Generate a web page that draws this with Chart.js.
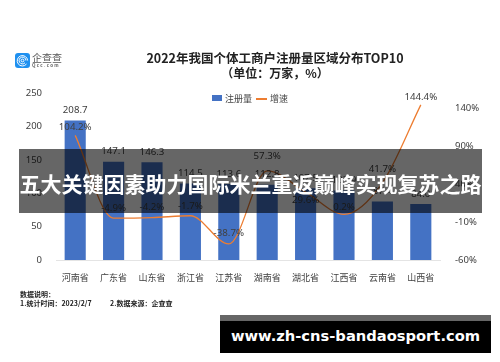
<!DOCTYPE html>
<html lang="zh">
<head>
<meta charset="utf-8">
<script src="https://cdn.jsdelivr.net/npm/chart.js@4/dist/chart.umd.min.js"></script>
<style>
html,body{margin:0;padding:0;background:#fff;width:500px;height:362px;overflow:hidden;font-family:"Noto Sans CJK SC","Noto Sans",sans-serif}
#wrap{position:relative;width:500px;height:362px;overflow:hidden}
canvas{position:absolute;left:0;top:0}
.t{position:absolute;white-space:nowrap;line-height:1}
</style>
</head>
<body>
<div id="wrap">
<canvas id="c" width="500" height="362"></canvas>
<svg class="t" style="left:15px;top:53px" width="15" height="15" viewBox="0 0 15 15"><rect width="15" height="15" rx="3" fill="#1e90f0"/><g fill="none" stroke="#fff" stroke-width="1"><path d="M11.5 11A5.2 5.2 0 1 1 12.6 7.5"/><path d="M10 9.8A3.4 3.4 0 1 1 10.9 7.5"/><circle cx="7.5" cy="7.5" r="1.4"/></g></svg>
<div class="t" style="left:32px;top:53px;font-size:10px;letter-spacing:0;color:#555;">企查查</div>
<div class="t" style="left:32px;top:63px;font-size:4.5px;letter-spacing:1.3px;color:#666;font-weight:bold">Qcc.com</div>
<div class="t" style="left:125px;width:300px;text-align:center;top:51.5px;font-size:12.5px;font-weight:bold;color:#222">2022年我国个体工商户注册量区域分布TOP10</div>
<div class="t" style="left:125px;width:300px;text-align:center;top:67px;font-size:12px;font-weight:bold;color:#222">&#xFF08;单位&#xFF1A;万家&#xFF0C;%&#xFF09;</div>
<div class="t" style="left:212px;top:95px;width:10px;height:6px;background:#4472C4"></div>
<div class="t" style="left:225px;top:94px;font-size:9px;color:#444">注册量</div>
<div class="t" style="left:256px;top:98px;width:11px;height:1.5px;background:#ED7D31"></div>
<div class="t" style="left:270px;top:94px;font-size:9px;color:#444">增速</div>
<div class="t" style="left:20px;top:291px;font-size:7px;font-weight:bold;color:#222">数据说明&#xFF1A;</div>
<div class="t" style="left:20px;top:300px;font-size:7px;font-weight:bold;color:#222">1.统计时间&#xFF1A;2023/2/7</div>
<div class="t" style="left:110px;top:300px;font-size:7px;font-weight:bold;color:#222">2.数据来源&#xFF1A;企查查</div>
<div class="t" style="left:19px;top:149px;width:463px;height:64px;background:rgba(0,0,0,.6)"></div>
<div class="t" style="left:19px;top:149px;width:463px;height:64px;line-height:69px;text-align:center;font-size:21px;font-weight:bold;color:#fff">五大关键因素助力国际米兰重返巅峰实现复苏之路</div>
<div class="t" style="left:220px;top:315px;width:271px;height:6px;background:#666"></div>
<div class="t" style="left:220px;top:321px;width:271px;height:32px;background:#000"></div>
<div class="t" style="left:220px;top:321px;width:271px;height:32px;line-height:30px;text-align:center;font-family:'DejaVu Sans';font-size:14.7px;font-weight:bold;color:#fff">www.zh-cns-bandaosport.com</div>
</div>
<script>
const categories = ["河南省","广东省","山东省","浙江省","江苏省","湖南省","湖北省","江西省","云南省","山西省"];
const registrations = [208.7,147.1,146.3,114.5,113.6,112.8,107.5,103.9,87.4,84.0];
const growth = [104.2,-4.9,-4.2,-1.7,-38.7,57.3,29.6,0.2,41.7,144.4];
const leftTicks = [0,50,100,150,200,250];
const rightTicks = [-60,-10,40,90,140];
const growthLabelOffsets = [-8,-10,-10,-10,-11,-15,8,-7,-14,-8];
const LABEL_FONT = '9.7px "Noto Sans","Noto Sans CJK SC",sans-serif';
const valueLabels = {
  id:'valueLabels',
  afterDatasetsDraw(chart){
    const {ctx,scales:{x,y,y1}} = chart;
    ctx.save();
    ctx.font = LABEL_FONT; ctx.fillStyle = '#404040';
    ctx.textAlign = 'center'; ctx.textBaseline = 'middle';
    registrations.forEach((v,i)=>ctx.fillText(v.toFixed(1),x.getPixelForValue(i),y.getPixelForValue(v)-10));
    growth.forEach((v,i)=>ctx.fillText(v.toFixed(1)+'%',x.getPixelForValue(i),y1.getPixelForValue(v)+growthLabelOffsets[i]));
    ctx.restore();
  }
};
new Chart(document.getElementById('c'),{
  data:{labels:categories,datasets:[
    {type:'line',label:'增速',data:growth,yAxisID:'y1',borderColor:'#ED7D31',borderWidth:1.3,pointRadius:0,cubicInterpolationMode:'monotone',order:1},
    {type:'bar',label:'注册量',data:registrations,yAxisID:'y',backgroundColor:'#4472C4',barPercentage:0.55,categoryPercentage:1,order:2}
  ]},
  options:{
    responsive:false,animation:false,devicePixelRatio:1,
    layout:{padding:{top:93,left:0,right:0,bottom:0}},
    plugins:{legend:{display:false},title:{display:false},tooltip:{enabled:false}},
    scales:{
      x:{grid:{display:false},border:{color:'#e4e4e4'},ticks:{color:'#404040',font:{size:9,family:'"Noto Sans CJK SC"'},padding:4,maxRotation:0,autoSkip:false},afterFit(s){s.height=102;}},
      y:{position:'left',min:0,max:250,grid:{display:false},border:{display:false},
        afterBuildTicks(s){s.ticks=leftTicks.map(value=>({value}));},
        ticks:{color:'#404040',font:{size:9.5,family:'"Noto Sans"'},padding:6},afterFit(s){s.width=56;}},
      y1:{position:'right',min:-60,max:160,grid:{display:false},border:{display:false},
        afterBuildTicks(s){s.ticks=rightTicks.map(value=>({value}));},
        ticks:{color:'#404040',font:{size:9.5,family:'"Noto Sans"'},padding:7,callback:v=>v+'%'},afterFit(s){s.width=60;}}
    }
  },
  plugins:[valueLabels]
});
</script>
</body>
</html>
